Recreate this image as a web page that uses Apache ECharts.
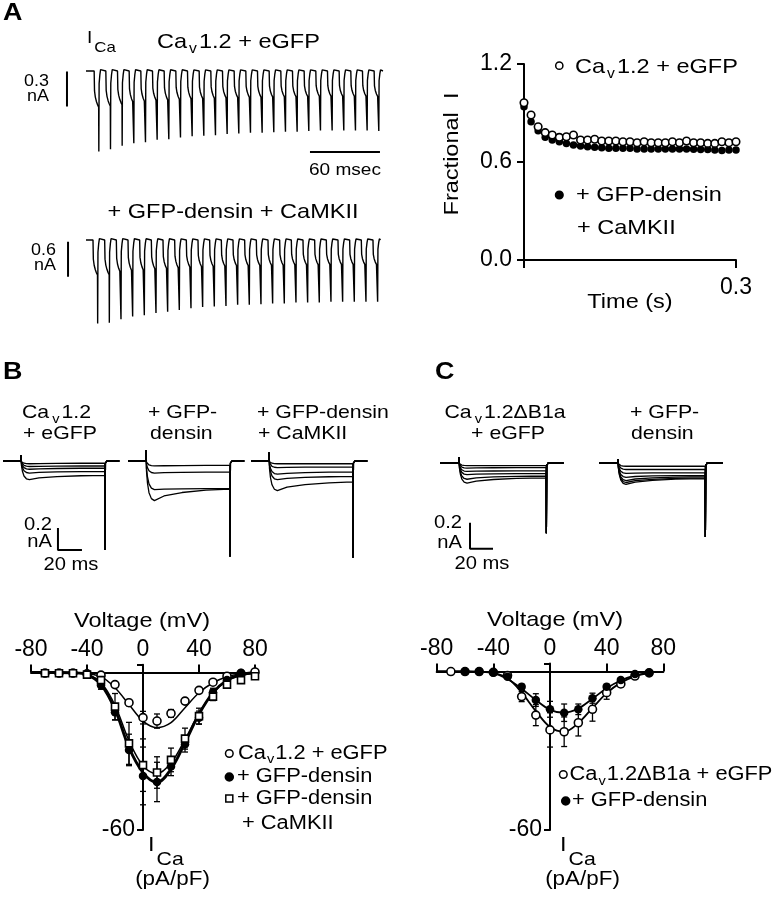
<!DOCTYPE html>
<html><head><meta charset="utf-8">
<script src="https://cdn.jsdelivr.net/npm/echarts@6/dist/echarts.min.js"></script>
<style>html,body{margin:0;padding:0;background:#fff}#c{width:777px;height:899px}</style>
</head><body><div id="c"></div>
<script>
// ================= DATA =================
// Panel A (left): tail-current peak of each pulse in the 25-pulse train (nA)
const trainPeaksEGFP   = [0.69,0.67,0.64,0.62,0.61,0.59,0.585,0.57,0.56,0.555,0.55,0.54,0.535,0.53,0.53,0.525,0.52,0.52,0.515,0.51,0.51,0.51,0.51,0.51,0.515];
const trainPeaksDensin = [1.43,1.42,1.36,1.31,1.29,1.25,1.23,1.20,1.17,1.15,1.14,1.13,1.11,1.11,1.10,1.09,1.09,1.07,1.07,1.07,1.06,1.06,1.06,1.06,1.06];
// Panel A (right): fractional current vs time (s)
const fracTime = [0,0.01,0.02,0.03,0.04,0.05,0.06,0.07,0.08,0.09,0.1,0.11,0.12,0.13,0.14,0.15,0.16,0.17,0.18,0.19,0.2,0.21,0.22,0.23,0.24,0.25,0.26,0.27,0.28,0.29,0.3];
const fracEGFP = [0.963,0.888,0.816,0.780,0.765,0.751,0.755,0.765,0.735,0.735,0.739,0.729,0.729,0.729,0.724,0.724,0.718,0.724,0.718,0.718,0.718,0.724,0.718,0.729,0.718,0.718,0.714,0.714,0.724,0.718,0.724];
const fracDensinCaMKII = [0.939,0.847,0.792,0.751,0.735,0.724,0.714,0.704,0.698,0.694,0.690,0.688,0.684,0.684,0.684,0.684,0.680,0.680,0.680,0.680,0.680,0.680,0.680,0.680,0.678,0.676,0.676,0.673,0.670,0.673,0.673];
// Panel B traces: peak and end-of-pulse current of each sweep (nA)
const bEGFPPeak   = [0.025,0.05,0.075,0.11,0.17];
const bEGFPEnd    = [0.02,0.045,0.065,0.095,0.13];
const bDensinPeak = [0.045,0.11,0.26,0.36];
const bDensinEnd  = [0.04,0.10,0.25,0.255];
const bCaMKIIPeak = [0.025,0.06,0.12,0.17,0.27];
const bCaMKIIEnd  = [0.025,0.055,0.10,0.14,0.19];
const bTail = [0.81,0.87,0.88];
const bCap  = [0.055,0.10,0.08];
// Panel C traces (nA)
const cDB1aPeak   = [0.02,0.04,0.065,0.09,0.125,0.155];
const cDB1aEnd    = [0.02,0.035,0.06,0.08,0.10,0.115];
const cDensinPeak = [0.025,0.05,0.08,0.11,0.135,0.15,0.165];
const cDensinEnd  = [0.025,0.05,0.075,0.095,0.105,0.115,0.12];
const cTail = [0.54,0.57];
const cCap  = [0.045,0.03];
// Panel B I-V (pA/pF)
const ivVolt = [-70,-60,-50,-40,-30,-20,-10,0,10,20,30,40,50,60,70,80];
const ivB_EGFP      = [-0.2,-0.2,-0.2,-0.5,-1.0,-4.6,-11.5,-17.2,-18.5,-15.6,-10.9,-6.8,-3.7,-1.4,-0.4,0.2];
const ivB_EGFPerr   = [0,0,0,0,0.4,0.8,1.2,2.4,2.7,1.5,1.2,0.9,0.6,0.4,0,0];
const ivB_Densin    = [-0.3,-0.3,-0.3,-0.5,-4.9,-15.1,-29.5,-39.4,-41.7,-35.8,-27.3,-17.2,-7.5,-2.9,-0.1,null];
const ivB_DensinErr = [0,0,0,0.3,1.5,3,6,11,7.5,3.5,3,2.5,1.5,1,0.4,0];
const ivB_CaMKII    = [-0.3,-0.3,-0.3,-0.8,-2.9,-13.0,-27.0,-35.3,-38.1,-33.3,-25.2,-16.6,-9.2,-4.6,-2.9,-1.4];
const ivB_CaMKIIerr = [0,0,0,0.3,1.5,5,8,10,6,4.5,4,3,1.5,1,0.5,0.3];
const fitVolt = [-80,-70,-60,-50,-40,-30,-20,-10,0,10,20,30,40,50,60,70,80];
const fitB_EGFP   = [0,0,0,-0.1,-0.4,-1.6,-5.8,-12.2,-18.5,-21.0,-19.1,-13.4,-7.7,-3.9,-1.6,-0.5,0.1];
const fitB_Densin = [0,0,0,-0.1,-0.8,-4.6,-14.1,-28.6,-38.1,-41.9,-36.8,-26.7,-15.9,-7.7,-2.9,-0.8,-0.1];
const fitB_CaMKII = [0,0,0,-0.1,-0.7,-3.8,-12.5,-26.0,-35.5,-38.5,-34.5,-25.5,-15.5,-7.8,-3.2,-1.2,-0.3];
// Panel C I-V (pA/pF)
const ivVoltC = [-70,-60,-50,-40,-30,-20,-10,0,10,20,30,40,50,60,70];
const ivC_DB1a      = [0,0,0,-0.3,-1.5,-9.5,-16.5,-22.1,-22.8,-19.4,-14.3,-8.0,-4.7,-1.7,-0.5];
const ivC_DB1aErr   = [0,0,0,0,0.5,1.9,4,6.5,5.6,5,4.5,2.5,1.2,0.5,0];
const ivC_Densin    = [null,0,0,-0.4,-2.0,-5.8,-10.8,-14.3,-15.6,-14.3,-10.1,-5.8,-3.2,-0.9,-0.5];
const ivC_DensinErr = [0,0,0,0,0.5,1,2.4,3,3.3,2,1.9,1,0.8,0.5,0];
const fitVoltC = [-80,-70,-60,-50,-40,-30,-20,-10,0,10,20,30,40,50,60,70];
const fitC_DB1a   = [0,0,0,-0.1,-0.5,-2.5,-8.0,-15.0,-21.0,-22.8,-19.5,-13.8,-8.2,-4.2,-1.8,-0.6];
const fitC_Densin = [0,0,0,-0.1,-0.6,-2.8,-6.5,-10.8,-14.5,-15.6,-14.0,-10.3,-6.3,-3.4,-1.5,-0.5];
const xTicksIV = [-80,-40,0,40,80];

// ================= HELPERS =================
const FF = '"Liberation Sans", Arial, Helvetica, sans-serif';
const SX = 1.12;
const mctx = document.createElement('canvas').getContext('2d');
function tw(t, size, weight) { mctx.font = (weight || 'normal') + ' ' + size + 'px ' + FF; return mctx.measureText(t).width; }
const G = [];
function txt(x, y, segs, align, weight) {
  let total = 0;
  segs.forEach(s => total += (s[3] || 0) + tw(s[0], s[1], weight) * SX);
  let cx = align === 'center' ? x - total / 2 : align === 'right' ? x - total : x;
  segs.forEach(s => {
    cx += (s[3] || 0);
    G.push({type: 'text', x: cx, y: y + (s[2] || 0), scaleX: SX, silent: true, z: 100,
      style: {text: s[0], font: (weight || 'normal') + ' ' + s[1] + 'px ' + FF, fill: '#000',
              align: 'left', verticalAlign: 'middle', textAlign: 'left', textVerticalAlign: 'middle'}});
    cx += tw(s[0], s[1], weight) * SX;
  });
}
function dot(cx, cy, r, filled) {
  G.push({type: 'circle', shape: {cx, cy, r}, silent: true, z: 100,
    style: {fill: filled ? '#000' : '#fff', stroke: '#000', lineWidth: 1.5}});
}
function sq(cx, cy, s) {
  G.push({type: 'rect', shape: {x: cx - s / 2, y: cy - s / 2, width: s, height: s}, silent: true, z: 100,
    style: {fill: '#fff', stroke: '#000', lineWidth: 1.5}});
}

function buildTrain(peaks, spike0, actRatio, tEnd) {
  const pts = [[0, 0]];
  peaks.forEach((p, k) => {
    const s = spike0 + 10 * k, d = s - 4, a = p * actRatio;
    pts.push([d, 0], [d + 0.3, -0.55 * a], [d + 1, -0.72 * a], [d + 2, -0.85 * a], [d + 3, -0.94 * a], [d + 3.85, -a],
      [s, -p], [s + 0.25, -0.35 * a], [s + 0.9, -0.1 * a], [s + 1.5, 0.04 * a], [s + 2.6, 0.01 * a]);
  });
  pts.push([tEnd, 0]);
  return pts;
}
function buildStep(peak, end, cap, tail, t0, t1, tEnd) {
  const d = peak - end;
  return [[0, 0], [t0 - 0.3, 0], [t0, cap], [t0 + 0.4, -0.25 * peak], [t0 + 1.2, -0.55 * peak], [t0 + 2.5, -0.8 * peak],
    [t0 + 4.5, -0.95 * peak], [t0 + 7, -peak], [t0 + 15, -(end + d * 0.6)], [t0 + 30, -(end + d * 0.3)],
    [t0 + 50, -(end + d * 0.1)], [t1 - 0.2, -end], [t1, -tail], [t1 + 0.35, -0.02], [t1 + 1.5, 0], [tEnd, 0]];
}
const series = [];
function lineS(gi, data, w, extra) {
  series.push(Object.assign({type: 'line', xAxisIndex: gi, yAxisIndex: gi, data, symbol: 'none', silent: true,
    lineStyle: {color: '#000', width: w}, animation: false}, extra || {}));
}
function errS(gi, volts, means, errs, z) {
  const data = [];
  volts.forEach((v, i) => { if (means[i] != null && errs[i]) data.push([v, means[i] - errs[i], means[i] + errs[i]]); });
  series.push({type: 'custom', xAxisIndex: gi, yAxisIndex: gi, data, z, silent: true, encode: {x: 0, y: [1, 2]},
    renderItem(params, api) {
      const x = api.value(0), lo = api.coord([x, api.value(1)]), hi = api.coord([x, api.value(2)]);
      const w = 3, st = {stroke: '#000', lineWidth: 1.3};
      return {type: 'group', children: [
        {type: 'line', shape: {x1: lo[0], y1: lo[1], x2: hi[0], y2: hi[1]}, style: st},
        {type: 'line', shape: {x1: lo[0] - w, y1: lo[1], x2: lo[0] + w, y2: lo[1]}, style: st},
        {type: 'line', shape: {x1: hi[0] - w, y1: hi[1], x2: hi[0] + w, y2: hi[1]}, style: st}]};
    }});
}
function scat(gi, xs, ys, symbol, size, filled, z) {
  series.push({type: 'scatter', xAxisIndex: gi, yAxisIndex: gi, z, silent: true, symbol, symbolSize: size,
    data: xs.map((x, i) => ys[i] == null ? null : [x, ys[i]]).filter(d => d),
    itemStyle: {color: filled ? '#000' : '#fff', borderColor: '#000', borderWidth: filled ? 0 : 1.6, opacity: 1}});
}

// ================= GRIDS / AXES =================
const grids = [], xAxes = [], yAxes = [];
function hiddenGrid(left, top, width, height, xr, yr) {
  grids.push({left, top, width, height, containLabel: false, outerBoundsMode: 'none'});
  const gi = grids.length - 1;
  xAxes.push({gridIndex: gi, type: 'value', min: xr[0], max: xr[1], show: false});
  yAxes.push({gridIndex: gi, type: 'value', min: yr[0], max: yr[1], show: false});
  return gi;
}
const axisBlack = {color: '#000', width: 2};
const lbl = {color: '#000', fontSize: 23, fontFamily: FF};

// A traces (70 px = 60 ms; 116.7 px/nA and 58.3 px/nA)
const gA1 = hiddenGrid(58, 61.67, 331.3, 96.83, [-24, 260], [-0.75, 0.08]);
const gA2 = hiddenGrid(58, 231.25, 331.3, 99.17, [-24, 260], [-1.55, 0.15]);
lineS(gA1, buildTrain(trainPeaksEGFP, 11, 0.45, 254.6), 1.4);
lineS(gA1, [[-16.3, -0.005], [-16.3, -0.305]], 2);
lineS(gA1, [[192, -0.694], [252, -0.694]], 2);
lineS(gA2, buildTrain(trainPeaksDensin, 10, 0.42, 252), 1.4);
lineS(gA2, [[-15.4, -0.03], [-15.4, -0.63]], 2);

// A fractional
grids.push({left: 524, top: 64, width: 212, height: 196, containLabel: false, outerBoundsMode: 'none'});
const gAF = grids.length - 1;
xAxes.push({gridIndex: gAF, type: 'value', min: 0, max: 0.3, interval: 0.3, splitLine: {show: false},
  axisLine: {lineStyle: axisBlack}, axisTick: {length: 8, lineStyle: axisBlack},
  axisLabel: Object.assign({margin: 16, formatter: v => v > 0 ? v.toFixed(1) : ''}, lbl)});
yAxes.push({gridIndex: gAF, type: 'value', min: 0, max: 1.2, interval: 0.6, splitLine: {show: false},
  axisLine: {show: true, lineStyle: axisBlack}, axisTick: {show: true, length: 7, lineStyle: axisBlack},
  axisLabel: Object.assign({margin: 12, formatter: v => v.toFixed(1)}, lbl)});
scat(gAF, fracTime, fracDensinCaMKII, 'circle', 7.5, true, 3);
scat(gAF, fracTime, fracEGFP, 'circle', 7.5, false, 4);

// B traces (1.2 px/ms, 110 px/nA, baseline y=461)
const bSets = [[bEGFPPeak, bEGFPEnd, 3], [bDensinPeak, bDensinEnd, 128], [bCaMKIIPeak, bCaMKIIEnd, 251]];
const bGrids = bSets.map(s => hiddenGrid(s[2], 447.8, 116.4, 112.2, [0, 97], [-0.9, 0.12]));
bSets.forEach((s, j) => s[0].forEach((p, i) => lineS(bGrids[j], buildStep(p, s[1][i], bCap[j], bTail[j], 15, 85, 97), 1.3)));
lineS(bGrids[0], [[45.8, -0.609], [45.8, -0.809], [65.8, -0.809]], 2);

// C traces (1.15 px/ms, 130 px/nA, baseline y=463)
const cSets = [[cDB1aPeak, cDB1aEnd, 440], [cDensinPeak, cDensinEnd, 599]];
const cGrids = cSets.map(s => hiddenGrid(s[2], 450, 123.6, 110.5, [0, 107.5], [-0.75, 0.1]));
cSets.forEach((s, j) => s[0].forEach((p, i) => lineS(cGrids[j], buildStep(p, s[1][i], cCap[j], cTail[j], 16.5, 92.5, 107.5), 1.3)));
lineS(cGrids[0], [[26.1, -0.46], [26.1, -0.66], [46.1, -0.66]], 2);

// I-V grids: y axis is shifted (offset) so that it sits at 0 mV
function ivGrid(left, top, width, height) {
  grids.push({left, top, width, height, containLabel: false, outerBoundsMode: 'none'});
  const gi = grids.length - 1;
  const x0 = xTicksIV[0], x1 = xTicksIV[xTicksIV.length - 1];
  const zeroOffset = -width * (0 - x0) / (x1 - x0);
  xAxes.push({gridIndex: gi, type: 'value', min: x0, max: x1, interval: 40,
    position: 'top', splitLine: {show: false},
    axisLine: {onZero: true, lineStyle: axisBlack}, axisTick: {length: 8, lineStyle: axisBlack},
    axisLabel: Object.assign({margin: 3}, lbl)});
  yAxes.push({gridIndex: gi, type: 'value', min: -60, max: 3, interval: 60, splitLine: {show: false},
    position: 'left', offset: zeroOffset,
    axisLine: {show: true, onZero: false, lineStyle: axisBlack}, axisTick: {show: true, length: 6, lineStyle: axisBlack},
    axisLabel: Object.assign({margin: 8, formatter: v => v === -60 ? '-60' : ''}, lbl)});
  return gi;
}
const gBIV = ivGrid(31, 664.625, 224, 165.375);
lineS(gBIV, fitVolt.map((v, i) => [v, fitB_EGFP[i]]), 1.5, {smooth: 0.35, z: 2});
lineS(gBIV, fitVolt.map((v, i) => [v, fitB_CaMKII[i]]), 1.5, {smooth: 0.35, z: 2});
lineS(gBIV, fitVolt.map((v, i) => [v, fitB_Densin[i]]), 2.8, {smooth: 0.35, z: 2});
errS(gBIV, ivVolt, ivB_EGFP, ivB_EGFPerr, 3);
errS(gBIV, ivVolt, ivB_Densin, ivB_DensinErr, 3);
errS(gBIV, ivVolt, ivB_CaMKII, ivB_CaMKIIerr, 3);
scat(gBIV, ivVolt, ivB_EGFP, 'circle', 8, false, 4);
scat(gBIV, ivVolt, ivB_Densin, 'circle', 8.5, true, 5);
scat(gBIV, ivVolt, ivB_CaMKII, 'rect', 7, false, 6);

const gCIV = ivGrid(436.7, 663.6, 226.6, 166.4);
lineS(gCIV, fitVoltC.map((v, i) => [v, fitC_DB1a[i]]), 1.8, {smooth: 0.35, z: 2});
lineS(gCIV, fitVoltC.map((v, i) => [v, fitC_Densin[i]]), 1.8, {smooth: 0.35, z: 2});
errS(gCIV, ivVoltC, ivC_DB1a, ivC_DB1aErr, 3);
errS(gCIV, ivVoltC, ivC_Densin, ivC_DensinErr, 3);
scat(gCIV, ivVoltC, ivC_DB1a, 'circle', 8, false, 4);
scat(gCIV, ivVoltC, ivC_Densin, 'circle', 8.5, true, 5);

// ================= TEXT =================
// Panel A
txt(3, 13, [['A', 24]], 'left', 'bold');
txt(87, 38, [['I', 17], ['Ca', 15, 10, 2]], 'left');
txt(157, 42.5, [['Ca', 21], ['v', 14, 7, 2], ['1.2 + eGFP', 21, 0, 2]], 'left');
txt(49, 81.5, [['0.3', 16]], 'right');
txt(49, 96.5, [['nA', 16]], 'right');
txt(345, 170.5, [['60 msec', 17]], 'center');
txt(233, 212.5, [['+ GFP-densin + CaMKII', 21]], 'center');
txt(56, 251, [['0.6', 16]], 'right');
txt(56, 266, [['nA', 16]], 'right');
dot(559.3, 65.7, 3.6, false);
txt(575, 67, [['Ca', 21], ['v', 14, 7, 2], ['1.2 + eGFP', 21, 0, 2]], 'left');
dot(559.3, 195, 3.8, true);
txt(576, 195, [['+ GFP-densin', 21]], 'left');
txt(577, 228, [['+ CaMKII', 21]], 'left');
G.push({type: 'text', x: 452, y: 154, rotation: Math.PI / 2, scaleX: SX, silent: true, z: 100,
  style: {text: 'Fractional  I', font: '21px ' + FF, fill: '#000', align: 'center', verticalAlign: 'middle', textAlign: 'center', textVerticalAlign: 'middle'}});
txt(630, 302, [['Time (s)', 21]], 'center');
// Panel B
txt(3, 372, [['B', 24]], 'left', 'bold');
txt(22, 412.5, [['Ca', 19], ['v', 13, 7, 3], ['1.2', 19, 0, 2]], 'left');
txt(23, 433.5, [['+ eGFP', 19]], 'left');
txt(148, 412.5, [['+ GFP-', 19]], 'left');
txt(150, 433.5, [['densin', 19]], 'left');
txt(257, 412.5, [['+ GFP-densin', 19]], 'left');
txt(258, 433.5, [['+ CaMKII', 19]], 'left');
txt(52, 525, [['0.2', 18]], 'right');
txt(52, 542, [['nA', 18]], 'right');
txt(71, 565, [['20 ms', 18]], 'center');
txt(142, 621, [['Voltage (mV)', 21]], 'center');
txt(148, 845.5, [['I', 21], ['Ca', 19, 14.5, 2]], 'left');
txt(172.5, 879, [['(pA/pF)', 20]], 'center');
dot(229.3, 753.5, 3.8, false);
txt(238, 753.5, [['Ca', 19.5], ['v', 13, 6, 1], ['1.2 + eGFP', 19.5, 0, 1]], 'left');
dot(229.3, 777, 4, true);
txt(237, 777, [['+ GFP-densin', 19.5]], 'left');
sq(229.3, 798.5, 7);
txt(237, 798.5, [['+ GFP-densin', 19.5]], 'left');
txt(242, 824, [['+ CaMKII', 19.5]], 'left');
// Panel C
txt(435, 372, [['C', 24]], 'left', 'bold');
txt(505, 412.5, [['Ca', 19], ['v', 13, 7, 3], ['1.2\u0394B1a', 19, 0, 2]], 'center');
txt(508, 433.5, [['+ eGFP', 19]], 'center');
txt(630, 412.5, [['+ GFP-', 19]], 'left');
txt(631, 433.5, [['densin', 19]], 'left');
txt(462, 523.5, [['0.2', 18]], 'right');
txt(462, 543.5, [['nA', 18]], 'right');
txt(482, 564.5, [['20 ms', 18]], 'center');
txt(555, 620, [['Voltage (mV)', 21]], 'center');
txt(560, 845.5, [['I', 21], ['Ca', 19, 14.5, 2]], 'left');
txt(582.5, 879, [['(pA/pF)', 20]], 'center');
dot(563.3, 774.5, 3.8, false);
txt(569.5, 775, [['Ca', 19.5], ['v', 13, 6, 1], ['1.2\u0394B1a + eGFP', 19.5, 0, 1]], 'left');
dot(565.7, 801, 4, true);
txt(572, 801, [['+ GFP-densin', 19.5]], 'left');

const chart = echarts.init(document.getElementById('c'), null, {renderer: 'canvas'});
chart.setOption({
  animation: false,
  backgroundColor: '#fff',
  textStyle: {fontFamily: FF},
  grid: grids, xAxis: xAxes, yAxis: yAxes, series,
  graphic: {elements: G}
});
</script></body></html>
